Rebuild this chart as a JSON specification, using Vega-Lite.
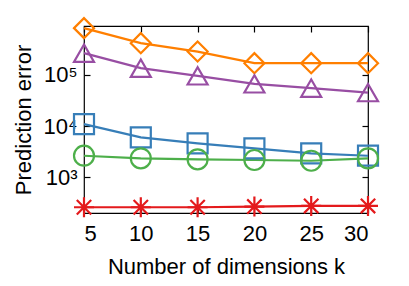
{
  "$schema": "https://vega.github.io/schema/vega-lite/v6.json",
  "width": 284,
  "height": 187,
  "autosize": {"type": "none"},
  "padding": {"left": 84, "top": 26, "right": 41, "bottom": 73},
  "config": {
    "font": "Liberation Sans",
    "view": {"stroke": "black", "strokeWidth": 1.2},
    "axis": {
      "labelFont": "Liberation Sans",
      "titleFont": "Liberation Sans",
      "labelFontSize": 22,
      "titleFontSize": 22,
      "titleFontWeight": "normal",
      "labelColor": "black",
      "titleColor": "black",
      "tickColor": "black",
      "domain": false,
      "grid": false,
      "tickSize": -6,
      "tickWidth": 1.2
    }
  },
  "data": {
    "values": [
      {"k": 5, "series": "A", "err": 817000},
      {"k": 10, "series": "A", "err": 416000},
      {"k": 15, "series": "A", "err": 285000},
      {"k": 20, "series": "A", "err": 169000},
      {"k": 25, "series": "A", "err": 169000},
      {"k": 30, "series": "A", "err": 169000},
      {"k": 5, "series": "B", "err": 265000},
      {"k": 10, "series": "B", "err": 135000},
      {"k": 15, "series": "B", "err": 95600},
      {"k": 20, "series": "B", "err": 66700},
      {"k": 25, "series": "B", "err": 55000},
      {"k": 30, "series": "B", "err": 45000},
      {"k": 5, "series": "C", "err": 10900},
      {"k": 10, "series": "C", "err": 6000},
      {"k": 15, "series": "C", "err": 4600},
      {"k": 20, "series": "C", "err": 3670},
      {"k": 25, "series": "C", "err": 2930},
      {"k": 30, "series": "C", "err": 2630},
      {"k": 5, "series": "D", "err": 2630},
      {"k": 10, "series": "D", "err": 2340},
      {"k": 15, "series": "D", "err": 2240},
      {"k": 20, "series": "D", "err": 2170},
      {"k": 25, "series": "D", "err": 2100},
      {"k": 30, "series": "D", "err": 2340},
      {"k": 5, "series": "E", "err": 259},
      {"k": 10, "series": "E", "err": 259},
      {"k": 15, "series": "E", "err": 259},
      {"k": 20, "series": "E", "err": 267},
      {"k": 25, "series": "E", "err": 275},
      {"k": 30, "series": "E", "err": 275}
    ]
  },
  "encoding": {
    "color": {
      "field": "series",
      "type": "nominal",
      "scale": {"domain": ["A", "B", "C", "D", "E"], "range": ["#ff7f00", "#984ea3", "#377eb8", "#4daf4a", "#e41a1c"]},
      "legend": null
    }
  },
  "layer": [
    {
      "mark": {"type": "line", "strokeWidth": 2.2, "clip": false},
      "encoding": {
        "x": {
          "field": "k",
          "type": "quantitative",
          "scale": {"domain": [5, 30], "nice": false, "zero": false},
          "axis": {"orient": "bottom", "values": [5, 10, 15, 20, 25, 30], "title": "Number of dimensions k", "labelPadding": 16, "titlePadding": 12}
        },
        "y": {
          "field": "err",
          "type": "quantitative",
          "scale": {"type": "log", "domain": [200, 900000], "nice": false},
          "axis": {
            "orient": "left",
            "values": [1000, 10000, 100000],
            "title": "Prediction error",
            "labelExpr": "datum.value == 1000 ? '10³' : datum.value == 10000 ? '10⁴' : '10⁵'",
            "labelPadding": 13,
            "titlePadding": 8
          }
        }
      }
    },
    {
      "mark": {"type": "point", "filled": false, "strokeWidth": 2.2, "opacity": 1, "clip": false},
      "encoding": {
        "x": {"field": "k", "type": "quantitative", "axis": null},
        "y": {"field": "err", "type": "quantitative", "axis": null},
        "shape": {
          "field": "series",
          "type": "nominal",
          "scale": {"domain": ["A", "B", "C", "D", "E"], "range": ["diamond", "triangle-up", "square", "circle", "M-1,0L1,0M0,-1L0,1M-0.72,-0.72L0.72,0.72M-0.72,0.72L0.72,-0.72"]},
          "legend": null
        },
        "size": {
          "field": "series",
          "type": "nominal",
          "scale": {"domain": ["A", "B", "C", "D", "E"], "range": [400, 400, 300, 280, 300]},
          "legend": null
        }
      }
    },
    {
      "mark": {"type": "point", "opacity": 0},
      "encoding": {
        "x": {"field": "k", "type": "quantitative", "axis": {"orient": "top", "values": [5, 10, 15, 20, 25, 30], "labels": false, "title": null}},
        "y": {"field": "err", "type": "quantitative", "axis": {"orient": "right", "values": [1000, 10000, 100000], "labels": false, "title": null}}
      }
    }
  ],
  "resolve": {"axis": {"x": "independent", "y": "independent"}}
}
